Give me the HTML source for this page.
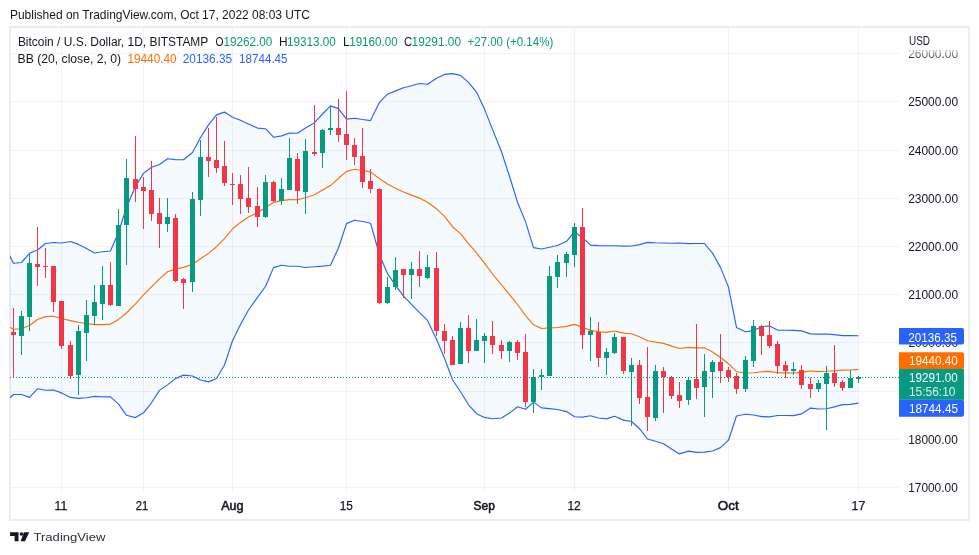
<!DOCTYPE html>
<html><head><meta charset="utf-8">
<style>
html,body{margin:0;padding:0;background:#fff;}
body{width:979px;height:555px;position:relative;overflow:hidden;}
svg{position:absolute;left:0;top:0;will-change:transform;}
text{font-family:"Liberation Sans",sans-serif;}
</style></head><body>
<svg width="979" height="555" viewBox="0 0 979 555">
<defs><clipPath id="chartclip"><rect x="10" y="28" width="889" height="463"/></clipPath><clipPath id="clip26"><rect x="900" y="50.3" width="68" height="12"/></clipPath><linearGradient id="fade26" x1="0" y1="0" x2="0" y2="1"><stop offset="0" stop-color="#fff" stop-opacity="0.75"/><stop offset="1" stop-color="#fff" stop-opacity="0.1"/></linearGradient></defs>
<rect x="0" y="0" width="979" height="555" fill="#FFFFFF"/>
<rect x="10" y="27" width="959" height="493" fill="none" stroke="#ECEDF2" stroke-width="2"/>
<line x1="11" y1="53.5" x2="899" y2="53.5" stroke="#2A2E39" stroke-opacity="0.06" stroke-width="1"/>
<line x1="11" y1="101.5" x2="899" y2="101.5" stroke="#2A2E39" stroke-opacity="0.06" stroke-width="1"/>
<line x1="11" y1="150.5" x2="899" y2="150.5" stroke="#2A2E39" stroke-opacity="0.06" stroke-width="1"/>
<line x1="11" y1="198.5" x2="899" y2="198.5" stroke="#2A2E39" stroke-opacity="0.06" stroke-width="1"/>
<line x1="11" y1="246.5" x2="899" y2="246.5" stroke="#2A2E39" stroke-opacity="0.06" stroke-width="1"/>
<line x1="11" y1="294.5" x2="899" y2="294.5" stroke="#2A2E39" stroke-opacity="0.06" stroke-width="1"/>
<line x1="11" y1="342.5" x2="899" y2="342.5" stroke="#2A2E39" stroke-opacity="0.06" stroke-width="1"/>
<line x1="11" y1="391.5" x2="899" y2="391.5" stroke="#2A2E39" stroke-opacity="0.06" stroke-width="1"/>
<line x1="11" y1="439.5" x2="899" y2="439.5" stroke="#2A2E39" stroke-opacity="0.06" stroke-width="1"/>
<line x1="11" y1="487.5" x2="899" y2="487.5" stroke="#2A2E39" stroke-opacity="0.06" stroke-width="1"/>
<line x1="61.5" y1="28" x2="61.5" y2="492" stroke="#2A2E39" stroke-opacity="0.06" stroke-width="1"/>
<line x1="143.5" y1="28" x2="143.5" y2="492" stroke="#2A2E39" stroke-opacity="0.06" stroke-width="1"/>
<line x1="232.5" y1="28" x2="232.5" y2="492" stroke="#2A2E39" stroke-opacity="0.06" stroke-width="1"/>
<line x1="346.5" y1="28" x2="346.5" y2="492" stroke="#2A2E39" stroke-opacity="0.06" stroke-width="1"/>
<line x1="484.5" y1="28" x2="484.5" y2="492" stroke="#2A2E39" stroke-opacity="0.06" stroke-width="1"/>
<line x1="574.5" y1="28" x2="574.5" y2="492" stroke="#2A2E39" stroke-opacity="0.06" stroke-width="1"/>
<line x1="728.5" y1="28" x2="728.5" y2="492" stroke="#2A2E39" stroke-opacity="0.06" stroke-width="1"/>
<line x1="858.5" y1="28" x2="858.5" y2="492" stroke="#2A2E39" stroke-opacity="0.06" stroke-width="1"/>
<g clip-path="url(#chartclip)">
<polygon points="4.5,245.5 13.5,263.3 21.5,262.5 29.5,253.3 37.5,250.0 45.5,243.5 53.5,242.5 61.5,243.0 70.5,241.5 78.5,244.4 86.5,248.5 94.5,253.0 102.5,251.8 110.5,251.0 118.5,232.2 126.5,207.2 135.5,186.3 143.5,173.4 151.5,167.3 159.5,164.5 167.5,158.7 175.5,159.6 183.5,159.8 192.5,152.5 200.5,137.5 208.5,124.9 216.5,114.9 224.5,112.1 232.5,117.3 240.5,120.3 248.5,123.9 257.5,128.1 265.5,128.7 273.5,137.2 281.5,135.9 289.5,133.0 297.5,133.2 305.5,127.9 314.5,122.7 322.5,114.0 330.5,105.9 338.5,108.6 346.5,119.1 354.5,118.2 362.5,119.5 370.5,120.6 379.5,102.3 387.5,94.2 395.5,90.9 403.5,87.8 411.5,85.8 419.5,83.5 427.5,84.3 436.5,78.3 444.5,74.4 452.5,73.6 460.5,75.4 468.5,82.4 476.5,92.1 484.5,109.1 492.5,129.4 501.5,151.7 509.5,176.3 517.5,202.2 525.5,221.6 533.5,247.6 541.5,249.0 549.5,247.2 557.5,245.5 566.5,241.3 574.5,231.9 582.5,237.5 590.5,245.1 598.5,245.6 606.5,245.8 614.5,245.7 623.5,246.1 631.5,246.0 639.5,244.6 647.5,242.4 655.5,242.8 663.5,243.0 671.5,243.2 679.5,243.0 688.5,243.6 696.5,243.5 704.5,243.5 712.5,253.1 720.5,267.4 728.5,287.1 736.5,327.4 745.5,331.8 753.5,330.6 761.5,326.8 769.5,325.9 777.5,330.1 785.5,330.2 793.5,330.4 801.5,330.9 810.5,333.9 818.5,334.1 826.5,334.0 834.5,334.6 842.5,335.6 850.5,335.6 858.5,335.8 858.5,403.1 850.5,404.4 842.5,404.6 834.5,406.9 826.5,408.7 818.5,409.0 810.5,408.1 801.5,413.9 793.5,415.6 785.5,415.5 777.5,415.5 769.5,416.9 761.5,416.6 753.5,415.0 745.5,414.2 736.5,416.0 728.5,440.2 720.5,447.6 712.5,451.0 704.5,452.1 696.5,452.4 688.5,451.1 679.5,453.9 671.5,448.9 663.5,443.7 655.5,441.2 647.5,439.0 639.5,428.7 631.5,421.5 623.5,420.1 614.5,416.3 606.5,418.9 598.5,418.0 590.5,415.8 582.5,417.1 574.5,416.8 566.5,411.6 557.5,409.5 549.5,408.6 541.5,407.9 533.5,402.1 525.5,409.3 517.5,406.8 509.5,413.1 501.5,418.0 492.5,418.7 484.5,417.4 476.5,413.7 468.5,404.8 460.5,391.8 452.5,379.8 444.5,358.4 436.5,339.3 427.5,320.4 419.5,312.6 411.5,304.4 403.5,296.2 395.5,285.4 387.5,273.6 379.5,255.0 370.5,223.2 362.5,221.5 354.5,220.3 346.5,223.6 338.5,248.0 330.5,265.2 322.5,266.1 314.5,266.7 305.5,267.5 297.5,266.2 289.5,266.2 281.5,265.2 273.5,267.6 265.5,286.5 257.5,297.3 248.5,310.0 240.5,324.5 232.5,340.7 224.5,365.0 216.5,378.5 208.5,381.9 200.5,380.0 192.5,376.0 183.5,375.1 175.5,378.6 167.5,384.9 159.5,390.4 151.5,402.8 143.5,412.8 135.5,417.6 126.5,415.3 118.5,404.1 110.5,396.8 102.5,396.8 94.5,396.4 86.5,397.8 78.5,398.4 70.5,397.4 61.5,392.9 53.5,390.0 45.5,390.3 37.5,388.8 29.5,397.4 21.5,394.5 13.5,394.5 4.5,403.0" fill="#2196F3" fill-opacity="0.05"/>
<polyline points="4.5,324.4 13.5,329.2 21.5,328.8 29.5,325.5 37.5,319.5 45.5,316.6 53.5,316.3 61.5,318.5 70.5,320.6 78.5,322.3 86.5,323.5 94.5,324.6 102.5,324.6 110.5,324.1 118.5,319.4 126.5,313.0 135.5,303.9 143.5,294.9 151.5,286.9 159.5,278.9 167.5,271.8 175.5,269.1 183.5,267.4 192.5,264.2 200.5,258.7 208.5,253.4 216.5,246.7 224.5,238.6 232.5,229.0 240.5,222.4 248.5,217.0 257.5,212.7 265.5,207.6 273.5,202.4 281.5,200.6 289.5,199.6 297.5,199.7 305.5,197.7 314.5,194.7 322.5,190.0 330.5,185.6 338.5,178.3 346.5,171.4 354.5,169.3 362.5,170.5 370.5,171.9 379.5,178.7 387.5,183.9 395.5,188.2 403.5,192.0 411.5,195.1 419.5,198.1 427.5,202.3 436.5,208.8 444.5,216.4 452.5,226.7 460.5,233.6 468.5,243.6 476.5,252.9 484.5,263.2 492.5,274.0 501.5,284.8 509.5,294.7 517.5,304.5 525.5,315.5 533.5,324.8 541.5,328.5 549.5,327.9 557.5,327.5 566.5,326.4 574.5,324.4 582.5,327.3 590.5,330.4 598.5,331.8 606.5,332.4 614.5,331.0 623.5,333.1 631.5,333.8 639.5,336.7 647.5,340.7 655.5,342.0 663.5,343.4 671.5,346.1 679.5,348.5 688.5,347.4 696.5,347.9 704.5,347.8 712.5,352.1 720.5,357.5 728.5,363.7 736.5,371.7 745.5,373.0 753.5,372.8 761.5,371.7 769.5,371.4 777.5,372.8 785.5,372.9 793.5,373.0 801.5,372.4 810.5,371.0 818.5,371.6 826.5,371.3 834.5,370.7 842.5,370.1 850.5,370.0 858.5,369.4" fill="none" stroke="#FF6D00" stroke-width="1.15" stroke-linejoin="round"/>
<polyline points="4.5,245.5 13.5,263.3 21.5,262.5 29.5,253.3 37.5,250.0 45.5,243.5 53.5,242.5 61.5,243.0 70.5,241.5 78.5,244.4 86.5,248.5 94.5,253.0 102.5,251.8 110.5,251.0 118.5,232.2 126.5,207.2 135.5,186.3 143.5,173.4 151.5,167.3 159.5,164.5 167.5,158.7 175.5,159.6 183.5,159.8 192.5,152.5 200.5,137.5 208.5,124.9 216.5,114.9 224.5,112.1 232.5,117.3 240.5,120.3 248.5,123.9 257.5,128.1 265.5,128.7 273.5,137.2 281.5,135.9 289.5,133.0 297.5,133.2 305.5,127.9 314.5,122.7 322.5,114.0 330.5,105.9 338.5,108.6 346.5,119.1 354.5,118.2 362.5,119.5 370.5,120.6 379.5,102.3 387.5,94.2 395.5,90.9 403.5,87.8 411.5,85.8 419.5,83.5 427.5,84.3 436.5,78.3 444.5,74.4 452.5,73.6 460.5,75.4 468.5,82.4 476.5,92.1 484.5,109.1 492.5,129.4 501.5,151.7 509.5,176.3 517.5,202.2 525.5,221.6 533.5,247.6 541.5,249.0 549.5,247.2 557.5,245.5 566.5,241.3 574.5,231.9 582.5,237.5 590.5,245.1 598.5,245.6 606.5,245.8 614.5,245.7 623.5,246.1 631.5,246.0 639.5,244.6 647.5,242.4 655.5,242.8 663.5,243.0 671.5,243.2 679.5,243.0 688.5,243.6 696.5,243.5 704.5,243.5 712.5,253.1 720.5,267.4 728.5,287.1 736.5,327.4 745.5,331.8 753.5,330.6 761.5,326.8 769.5,325.9 777.5,330.1 785.5,330.2 793.5,330.4 801.5,330.9 810.5,333.9 818.5,334.1 826.5,334.0 834.5,334.6 842.5,335.6 850.5,335.6 858.5,335.8" fill="none" stroke="#2962FF" stroke-width="1.15" stroke-linejoin="round"/>
<polyline points="4.5,403.0 13.5,394.5 21.5,394.5 29.5,397.4 37.5,388.8 45.5,390.3 53.5,390.0 61.5,392.9 70.5,397.4 78.5,398.4 86.5,397.8 94.5,396.4 102.5,396.8 110.5,396.8 118.5,404.1 126.5,415.3 135.5,417.6 143.5,412.8 151.5,402.8 159.5,390.4 167.5,384.9 175.5,378.6 183.5,375.1 192.5,376.0 200.5,380.0 208.5,381.9 216.5,378.5 224.5,365.0 232.5,340.7 240.5,324.5 248.5,310.0 257.5,297.3 265.5,286.5 273.5,267.6 281.5,265.2 289.5,266.2 297.5,266.2 305.5,267.5 314.5,266.7 322.5,266.1 330.5,265.2 338.5,248.0 346.5,223.6 354.5,220.3 362.5,221.5 370.5,223.2 379.5,255.0 387.5,273.6 395.5,285.4 403.5,296.2 411.5,304.4 419.5,312.6 427.5,320.4 436.5,339.3 444.5,358.4 452.5,379.8 460.5,391.8 468.5,404.8 476.5,413.7 484.5,417.4 492.5,418.7 501.5,418.0 509.5,413.1 517.5,406.8 525.5,409.3 533.5,402.1 541.5,407.9 549.5,408.6 557.5,409.5 566.5,411.6 574.5,416.8 582.5,417.1 590.5,415.8 598.5,418.0 606.5,418.9 614.5,416.3 623.5,420.1 631.5,421.5 639.5,428.7 647.5,439.0 655.5,441.2 663.5,443.7 671.5,448.9 679.5,453.9 688.5,451.1 696.5,452.4 704.5,452.1 712.5,451.0 720.5,447.6 728.5,440.2 736.5,416.0 745.5,414.2 753.5,415.0 761.5,416.6 769.5,416.9 777.5,415.5 785.5,415.5 793.5,415.6 801.5,413.9 810.5,408.1 818.5,409.0 826.5,408.7 834.5,406.9 842.5,404.6 850.5,404.4 858.5,403.1" fill="none" stroke="#2962FF" stroke-width="1.15" stroke-linejoin="round"/>
<line x1="13.5" y1="308" x2="13.5" y2="378" stroke="#F23645" stroke-width="1"/>
<rect x="11" y="332" width="5" height="3" fill="#F23645"/>
<line x1="21.5" y1="311" x2="21.5" y2="355" stroke="#089981" stroke-width="1"/>
<rect x="19" y="316" width="5" height="20" fill="#089981"/>
<line x1="29.5" y1="254" x2="29.5" y2="331" stroke="#089981" stroke-width="1"/>
<rect x="27" y="263" width="5" height="54" fill="#089981"/>
<line x1="37.5" y1="227" x2="37.5" y2="286" stroke="#F23645" stroke-width="1"/>
<rect x="35" y="264" width="5" height="3" fill="#F23645"/>
<line x1="45.5" y1="248" x2="45.5" y2="278" stroke="#F23645" stroke-width="1"/>
<rect x="43" y="266" width="5" height="1" fill="#F23645"/>
<line x1="53.5" y1="266" x2="53.5" y2="312" stroke="#F23645" stroke-width="1"/>
<rect x="51" y="266" width="5" height="36" fill="#F23645"/>
<line x1="61.5" y1="301" x2="61.5" y2="349" stroke="#F23645" stroke-width="1"/>
<rect x="59" y="301" width="5" height="45" fill="#F23645"/>
<line x1="70.5" y1="341" x2="70.5" y2="379" stroke="#F23645" stroke-width="1"/>
<rect x="68" y="345" width="5" height="31" fill="#F23645"/>
<line x1="78.5" y1="325" x2="78.5" y2="395" stroke="#089981" stroke-width="1"/>
<rect x="76" y="331" width="5" height="44" fill="#089981"/>
<line x1="86.5" y1="300" x2="86.5" y2="361" stroke="#089981" stroke-width="1"/>
<rect x="84" y="315" width="5" height="18" fill="#089981"/>
<line x1="94.5" y1="285" x2="94.5" y2="325" stroke="#089981" stroke-width="1"/>
<rect x="92" y="302" width="5" height="14" fill="#089981"/>
<line x1="102.5" y1="266" x2="102.5" y2="320" stroke="#089981" stroke-width="1"/>
<rect x="100" y="285" width="5" height="19" fill="#089981"/>
<line x1="110.5" y1="262" x2="110.5" y2="306" stroke="#F23645" stroke-width="1"/>
<rect x="108" y="285" width="5" height="20" fill="#F23645"/>
<line x1="118.5" y1="209" x2="118.5" y2="306" stroke="#089981" stroke-width="1"/>
<rect x="116" y="225" width="5" height="81" fill="#089981"/>
<line x1="126.5" y1="159" x2="126.5" y2="265" stroke="#089981" stroke-width="1"/>
<rect x="124" y="178" width="5" height="47" fill="#089981"/>
<line x1="135.5" y1="136" x2="135.5" y2="202" stroke="#F23645" stroke-width="1"/>
<rect x="133" y="179" width="5" height="10" fill="#F23645"/>
<line x1="143.5" y1="177" x2="143.5" y2="229" stroke="#F23645" stroke-width="1"/>
<rect x="141" y="187" width="5" height="4" fill="#F23645"/>
<line x1="151.5" y1="161" x2="151.5" y2="221" stroke="#F23645" stroke-width="1"/>
<rect x="149" y="190" width="5" height="24" fill="#F23645"/>
<line x1="159.5" y1="198" x2="159.5" y2="248" stroke="#F23645" stroke-width="1"/>
<rect x="157" y="213" width="5" height="11" fill="#F23645"/>
<line x1="167.5" y1="198" x2="167.5" y2="232" stroke="#089981" stroke-width="1"/>
<rect x="165" y="217" width="5" height="7" fill="#089981"/>
<line x1="175.5" y1="214" x2="175.5" y2="282" stroke="#F23645" stroke-width="1"/>
<rect x="173" y="218" width="5" height="63" fill="#F23645"/>
<line x1="183.5" y1="278" x2="183.5" y2="309" stroke="#F23645" stroke-width="1"/>
<rect x="181" y="279" width="5" height="4" fill="#F23645"/>
<line x1="192.5" y1="192" x2="192.5" y2="292" stroke="#089981" stroke-width="1"/>
<rect x="190" y="199" width="5" height="83" fill="#089981"/>
<line x1="200.5" y1="140" x2="200.5" y2="216" stroke="#089981" stroke-width="1"/>
<rect x="198" y="157" width="5" height="43" fill="#089981"/>
<line x1="208.5" y1="128" x2="208.5" y2="177" stroke="#F23645" stroke-width="1"/>
<rect x="206" y="157" width="5" height="4" fill="#F23645"/>
<line x1="216.5" y1="117" x2="216.5" y2="173" stroke="#F23645" stroke-width="1"/>
<rect x="214" y="160" width="5" height="8" fill="#F23645"/>
<line x1="224.5" y1="141" x2="224.5" y2="186" stroke="#F23645" stroke-width="1"/>
<rect x="222" y="166" width="5" height="17" fill="#F23645"/>
<line x1="232.5" y1="173" x2="232.5" y2="205" stroke="#F23645" stroke-width="1"/>
<rect x="230" y="184" width="5" height="1" fill="#F23645"/>
<line x1="240.5" y1="175" x2="240.5" y2="214" stroke="#F23645" stroke-width="1"/>
<rect x="238" y="184" width="5" height="15" fill="#F23645"/>
<line x1="248.5" y1="167" x2="248.5" y2="213" stroke="#F23645" stroke-width="1"/>
<rect x="246" y="198" width="5" height="9" fill="#F23645"/>
<line x1="257.5" y1="187" x2="257.5" y2="227" stroke="#F23645" stroke-width="1"/>
<rect x="255" y="206" width="5" height="11" fill="#F23645"/>
<line x1="265.5" y1="175" x2="265.5" y2="218" stroke="#089981" stroke-width="1"/>
<rect x="263" y="182" width="5" height="35" fill="#089981"/>
<line x1="273.5" y1="181" x2="273.5" y2="202" stroke="#F23645" stroke-width="1"/>
<rect x="271" y="182" width="5" height="19" fill="#F23645"/>
<line x1="281.5" y1="178" x2="281.5" y2="205" stroke="#089981" stroke-width="1"/>
<rect x="279" y="189" width="5" height="12" fill="#089981"/>
<line x1="289.5" y1="138" x2="289.5" y2="190" stroke="#089981" stroke-width="1"/>
<rect x="287" y="158" width="5" height="32" fill="#089981"/>
<line x1="297.5" y1="153" x2="297.5" y2="204" stroke="#F23645" stroke-width="1"/>
<rect x="295" y="159" width="5" height="32" fill="#F23645"/>
<line x1="305.5" y1="139" x2="305.5" y2="214" stroke="#089981" stroke-width="1"/>
<rect x="303" y="151" width="5" height="41" fill="#089981"/>
<line x1="314.5" y1="105" x2="314.5" y2="156" stroke="#F23645" stroke-width="1"/>
<rect x="312" y="152" width="5" height="2" fill="#F23645"/>
<line x1="322.5" y1="129" x2="322.5" y2="168" stroke="#089981" stroke-width="1"/>
<rect x="320" y="130" width="5" height="23" fill="#089981"/>
<line x1="330.5" y1="106" x2="330.5" y2="135" stroke="#089981" stroke-width="1"/>
<rect x="328" y="128" width="5" height="2" fill="#089981"/>
<line x1="338.5" y1="99" x2="338.5" y2="142" stroke="#F23645" stroke-width="1"/>
<rect x="336" y="128" width="5" height="7" fill="#F23645"/>
<line x1="346.5" y1="91" x2="346.5" y2="160" stroke="#F23645" stroke-width="1"/>
<rect x="344" y="134" width="5" height="11" fill="#F23645"/>
<line x1="354.5" y1="138" x2="354.5" y2="165" stroke="#F23645" stroke-width="1"/>
<rect x="352" y="145" width="5" height="12" fill="#F23645"/>
<line x1="362.5" y1="128" x2="362.5" y2="188" stroke="#F23645" stroke-width="1"/>
<rect x="360" y="156" width="5" height="26" fill="#F23645"/>
<line x1="370.5" y1="169" x2="370.5" y2="193" stroke="#F23645" stroke-width="1"/>
<rect x="368" y="181" width="5" height="8" fill="#F23645"/>
<line x1="379.5" y1="188" x2="379.5" y2="304" stroke="#F23645" stroke-width="1"/>
<rect x="377" y="189" width="5" height="114" fill="#F23645"/>
<line x1="387.5" y1="277" x2="387.5" y2="304" stroke="#089981" stroke-width="1"/>
<rect x="385" y="287" width="5" height="16" fill="#089981"/>
<line x1="395.5" y1="257" x2="395.5" y2="290" stroke="#089981" stroke-width="1"/>
<rect x="393" y="270" width="5" height="17" fill="#089981"/>
<line x1="403.5" y1="269" x2="403.5" y2="298" stroke="#F23645" stroke-width="1"/>
<rect x="401" y="269" width="5" height="6" fill="#F23645"/>
<line x1="411.5" y1="262" x2="411.5" y2="299" stroke="#089981" stroke-width="1"/>
<rect x="409" y="269" width="5" height="6" fill="#089981"/>
<line x1="419.5" y1="251" x2="419.5" y2="287" stroke="#F23645" stroke-width="1"/>
<rect x="417" y="269" width="5" height="7" fill="#F23645"/>
<line x1="427.5" y1="255" x2="427.5" y2="279" stroke="#089981" stroke-width="1"/>
<rect x="425" y="267" width="5" height="11" fill="#089981"/>
<line x1="436.5" y1="252" x2="436.5" y2="336" stroke="#F23645" stroke-width="1"/>
<rect x="434" y="268" width="5" height="63" fill="#F23645"/>
<line x1="549.5" y1="266" x2="549.5" y2="376" stroke="#089981" stroke-width="1"/>
<rect x="547" y="276" width="5" height="100" fill="#089981"/>
<line x1="557.5" y1="255" x2="557.5" y2="288" stroke="#089981" stroke-width="1"/>
<rect x="555" y="262" width="5" height="15" fill="#089981"/>
<line x1="566.5" y1="252" x2="566.5" y2="277" stroke="#089981" stroke-width="1"/>
<rect x="564" y="254" width="5" height="9" fill="#089981"/>
<line x1="574.5" y1="223" x2="574.5" y2="267" stroke="#089981" stroke-width="1"/>
<rect x="572" y="227" width="5" height="28" fill="#089981"/>
<line x1="582.5" y1="208" x2="582.5" y2="349" stroke="#F23645" stroke-width="1"/>
<rect x="580" y="227" width="5" height="108" fill="#F23645"/>
<line x1="444.5" y1="324" x2="444.5" y2="354" stroke="#F23645" stroke-width="1"/>
<rect x="442" y="331" width="5" height="10" fill="#F23645"/>
<line x1="452.5" y1="336" x2="452.5" y2="365" stroke="#F23645" stroke-width="1"/>
<rect x="450" y="340" width="5" height="25" fill="#F23645"/>
<line x1="460.5" y1="322" x2="460.5" y2="364" stroke="#089981" stroke-width="1"/>
<rect x="458" y="328" width="5" height="36" fill="#089981"/>
<line x1="468.5" y1="315" x2="468.5" y2="363" stroke="#F23645" stroke-width="1"/>
<rect x="466" y="328" width="5" height="23" fill="#F23645"/>
<line x1="476.5" y1="319" x2="476.5" y2="351" stroke="#089981" stroke-width="1"/>
<rect x="474" y="340" width="5" height="11" fill="#089981"/>
<line x1="484.5" y1="333" x2="484.5" y2="363" stroke="#089981" stroke-width="1"/>
<rect x="482" y="336" width="5" height="5" fill="#089981"/>
<line x1="492.5" y1="321" x2="492.5" y2="354" stroke="#F23645" stroke-width="1"/>
<rect x="490" y="336" width="5" height="9" fill="#F23645"/>
<line x1="501.5" y1="340" x2="501.5" y2="359" stroke="#F23645" stroke-width="1"/>
<rect x="499" y="345" width="5" height="6" fill="#F23645"/>
<line x1="509.5" y1="341" x2="509.5" y2="362" stroke="#089981" stroke-width="1"/>
<rect x="507" y="342" width="5" height="9" fill="#089981"/>
<line x1="517.5" y1="340" x2="517.5" y2="360" stroke="#F23645" stroke-width="1"/>
<rect x="515" y="342" width="5" height="11" fill="#F23645"/>
<line x1="525.5" y1="334" x2="525.5" y2="407" stroke="#F23645" stroke-width="1"/>
<rect x="523" y="352" width="5" height="50" fill="#F23645"/>
<line x1="533.5" y1="369" x2="533.5" y2="413" stroke="#089981" stroke-width="1"/>
<rect x="531" y="377" width="5" height="25" fill="#089981"/>
<line x1="541.5" y1="369" x2="541.5" y2="390" stroke="#089981" stroke-width="1"/>
<rect x="539" y="375" width="5" height="2" fill="#089981"/>
<line x1="590.5" y1="317" x2="590.5" y2="361" stroke="#089981" stroke-width="1"/>
<rect x="588" y="331" width="5" height="4" fill="#089981"/>
<line x1="598.5" y1="322" x2="598.5" y2="367" stroke="#F23645" stroke-width="1"/>
<rect x="596" y="332" width="5" height="26" fill="#F23645"/>
<line x1="606.5" y1="348" x2="606.5" y2="375" stroke="#089981" stroke-width="1"/>
<rect x="604" y="352" width="5" height="6" fill="#089981"/>
<line x1="614.5" y1="333" x2="614.5" y2="354" stroke="#089981" stroke-width="1"/>
<rect x="612" y="337" width="5" height="16" fill="#089981"/>
<line x1="623.5" y1="337" x2="623.5" y2="374" stroke="#F23645" stroke-width="1"/>
<rect x="621" y="337" width="5" height="34" fill="#F23645"/>
<line x1="631.5" y1="358" x2="631.5" y2="426" stroke="#089981" stroke-width="1"/>
<rect x="629" y="365" width="5" height="7" fill="#089981"/>
<line x1="639.5" y1="360" x2="639.5" y2="404" stroke="#F23645" stroke-width="1"/>
<rect x="637" y="365" width="5" height="33" fill="#F23645"/>
<line x1="647.5" y1="347" x2="647.5" y2="431" stroke="#F23645" stroke-width="1"/>
<rect x="645" y="397" width="5" height="20" fill="#F23645"/>
<line x1="655.5" y1="365" x2="655.5" y2="421" stroke="#089981" stroke-width="1"/>
<rect x="653" y="371" width="5" height="47" fill="#089981"/>
<line x1="663.5" y1="367" x2="663.5" y2="413" stroke="#F23645" stroke-width="1"/>
<rect x="661" y="371" width="5" height="6" fill="#F23645"/>
<line x1="671.5" y1="376" x2="671.5" y2="399" stroke="#F23645" stroke-width="1"/>
<rect x="669" y="377" width="5" height="19" fill="#F23645"/>
<line x1="679.5" y1="382" x2="679.5" y2="408" stroke="#F23645" stroke-width="1"/>
<rect x="677" y="395" width="5" height="6" fill="#F23645"/>
<line x1="688.5" y1="377" x2="688.5" y2="405" stroke="#089981" stroke-width="1"/>
<rect x="686" y="380" width="5" height="20" fill="#089981"/>
<line x1="696.5" y1="324" x2="696.5" y2="399" stroke="#F23645" stroke-width="1"/>
<rect x="694" y="379" width="5" height="9" fill="#F23645"/>
<line x1="704.5" y1="354" x2="704.5" y2="417" stroke="#089981" stroke-width="1"/>
<rect x="702" y="371" width="5" height="16" fill="#089981"/>
<line x1="712.5" y1="360" x2="712.5" y2="398" stroke="#089981" stroke-width="1"/>
<rect x="710" y="362" width="5" height="10" fill="#089981"/>
<line x1="720.5" y1="334" x2="720.5" y2="383" stroke="#F23645" stroke-width="1"/>
<rect x="718" y="362" width="5" height="9" fill="#F23645"/>
<line x1="728.5" y1="367" x2="728.5" y2="382" stroke="#F23645" stroke-width="1"/>
<rect x="726" y="370" width="5" height="7" fill="#F23645"/>
<line x1="736.5" y1="373" x2="736.5" y2="394" stroke="#F23645" stroke-width="1"/>
<rect x="734" y="376" width="5" height="13" fill="#F23645"/>
<line x1="745.5" y1="356" x2="745.5" y2="392" stroke="#089981" stroke-width="1"/>
<rect x="743" y="360" width="5" height="29" fill="#089981"/>
<line x1="753.5" y1="320" x2="753.5" y2="367" stroke="#089981" stroke-width="1"/>
<rect x="751" y="326" width="5" height="35" fill="#089981"/>
<line x1="761.5" y1="325" x2="761.5" y2="355" stroke="#F23645" stroke-width="1"/>
<rect x="759" y="326" width="5" height="10" fill="#F23645"/>
<line x1="769.5" y1="321" x2="769.5" y2="348" stroke="#F23645" stroke-width="1"/>
<rect x="767" y="335" width="5" height="11" fill="#F23645"/>
<line x1="777.5" y1="341" x2="777.5" y2="374" stroke="#F23645" stroke-width="1"/>
<rect x="775" y="344" width="5" height="22" fill="#F23645"/>
<line x1="785.5" y1="361" x2="785.5" y2="378" stroke="#F23645" stroke-width="1"/>
<rect x="783" y="365" width="5" height="6" fill="#F23645"/>
<line x1="793.5" y1="362" x2="793.5" y2="375" stroke="#089981" stroke-width="1"/>
<rect x="791" y="369" width="5" height="2" fill="#089981"/>
<line x1="801.5" y1="365" x2="801.5" y2="389" stroke="#F23645" stroke-width="1"/>
<rect x="799" y="370" width="5" height="15" fill="#F23645"/>
<line x1="810.5" y1="378" x2="810.5" y2="398" stroke="#F23645" stroke-width="1"/>
<rect x="808" y="384" width="5" height="5" fill="#F23645"/>
<line x1="818.5" y1="380" x2="818.5" y2="392" stroke="#089981" stroke-width="1"/>
<rect x="816" y="383" width="5" height="6" fill="#089981"/>
<line x1="826.5" y1="366" x2="826.5" y2="430" stroke="#089981" stroke-width="1"/>
<rect x="824" y="373" width="5" height="11" fill="#089981"/>
<line x1="834.5" y1="345" x2="834.5" y2="387" stroke="#F23645" stroke-width="1"/>
<rect x="832" y="373" width="5" height="10" fill="#F23645"/>
<line x1="842.5" y1="380" x2="842.5" y2="391" stroke="#F23645" stroke-width="1"/>
<rect x="840" y="382" width="5" height="6" fill="#F23645"/>
<line x1="850.5" y1="370" x2="850.5" y2="388" stroke="#089981" stroke-width="1"/>
<rect x="848" y="378" width="5" height="10" fill="#089981"/>
<line x1="858.5" y1="376" x2="858.5" y2="383" stroke="#089981" stroke-width="1"/>
<rect x="856" y="377" width="5" height="2" fill="#089981"/>
<line x1="10" y1="377.5" x2="899" y2="377.5" stroke="#089981" stroke-width="1" stroke-dasharray="1,2"/>
</g>
<text x="9.98" y="19.0" font-size="12.6" fill="#131722" font-weight="normal" textLength="299.95" lengthAdjust="spacingAndGlyphs" >Published on TradingView.com, Oct 17, 2022 08:03 UTC</text>
<text x="17.88" y="45.9" font-size="12" fill="#131722" font-weight="normal" textLength="190.43" lengthAdjust="spacingAndGlyphs" >Bitcoin / U.S. Dollar, 1D, BITSTAMP</text>
<text x="215.45" y="45.9" font-size="12" fill="#131722" font-weight="normal" textLength="8.00" lengthAdjust="spacingAndGlyphs" >O</text>
<text x="223.45" y="45.9" font-size="12" fill="#089981" font-weight="normal" textLength="48.94" lengthAdjust="spacingAndGlyphs" >19262.00</text>
<text x="279.00" y="45.9" font-size="12" fill="#131722" font-weight="normal" textLength="8.60" lengthAdjust="spacingAndGlyphs" >H</text>
<text x="286.88" y="45.9" font-size="12" fill="#089981" font-weight="normal" textLength="48.93" lengthAdjust="spacingAndGlyphs" >19313.00</text>
<text x="343.10" y="45.9" font-size="12" fill="#131722" font-weight="normal"  >L</text>
<text x="349.15" y="45.9" font-size="12" fill="#089981" font-weight="normal" textLength="48.66" lengthAdjust="spacingAndGlyphs" >19160.00</text>
<text x="404.00" y="45.9" font-size="12" fill="#131722" font-weight="normal" textLength="8.20" lengthAdjust="spacingAndGlyphs" >C</text>
<text x="411.60" y="45.9" font-size="12" fill="#089981" font-weight="normal" textLength="49.38" lengthAdjust="spacingAndGlyphs" >19291.00</text>
<text x="467.53" y="45.9" font-size="12" fill="#089981" font-weight="normal" textLength="85.70" lengthAdjust="spacingAndGlyphs" >+27.00 (+0.14%)</text>
<text x="17.52" y="62.8" font-size="12" fill="#131722" font-weight="normal" textLength="103.63" lengthAdjust="spacingAndGlyphs" >BB (20, close, 2, 0)</text>
<text x="127.38" y="62.8" font-size="12" fill="#FF6D00" font-weight="normal" textLength="49.28" lengthAdjust="spacingAndGlyphs" >19440.40</text>
<text x="182.72" y="62.8" font-size="12" fill="#2962FF" font-weight="normal" textLength="49.37" lengthAdjust="spacingAndGlyphs" >20136.35</text>
<text x="239.08" y="62.8" font-size="12" fill="#2962FF" font-weight="normal" textLength="48.47" lengthAdjust="spacingAndGlyphs" >18744.45</text>
<text x="909.06" y="44.7" font-size="12.4" fill="#131722" font-weight="normal" textLength="20.87" lengthAdjust="spacingAndGlyphs" >USD</text>
<text x="908.18" y="105.9" font-size="12.4" fill="#131722" font-weight="normal" textLength="49.86" lengthAdjust="spacingAndGlyphs" >25000.00</text>
<text x="908.18" y="154.9" font-size="12.4" fill="#131722" font-weight="normal" textLength="49.86" lengthAdjust="spacingAndGlyphs" >24000.00</text>
<text x="908.18" y="202.9" font-size="12.4" fill="#131722" font-weight="normal" textLength="49.86" lengthAdjust="spacingAndGlyphs" >23000.00</text>
<text x="908.18" y="250.9" font-size="12.4" fill="#131722" font-weight="normal" textLength="49.86" lengthAdjust="spacingAndGlyphs" >22000.00</text>
<text x="908.18" y="298.9" font-size="12.4" fill="#131722" font-weight="normal" textLength="49.86" lengthAdjust="spacingAndGlyphs" >21000.00</text>
<text x="908.41" y="346.9" font-size="12.4" fill="#131722" font-weight="normal" textLength="49.68" lengthAdjust="spacingAndGlyphs" >20000.00</text>
<text x="908.21" y="443.9" font-size="12.4" fill="#131722" font-weight="normal" textLength="49.54" lengthAdjust="spacingAndGlyphs" >18000.00</text>
<text x="908.21" y="491.9" font-size="12.4" fill="#131722" font-weight="normal" textLength="49.54" lengthAdjust="spacingAndGlyphs" >17000.00</text>
<text x="54.54" y="509.9" font-size="12.4" fill="#131722" font-weight="normal" textLength="12.67" lengthAdjust="spacingAndGlyphs" stroke="#131722" stroke-width="0.25">11</text>
<text x="135.85" y="509.9" font-size="12.4" fill="#131722" font-weight="normal" textLength="12.43" lengthAdjust="spacingAndGlyphs" stroke="#131722" stroke-width="0.25">21</text>
<text x="221.21" y="509.9" font-size="12.4" fill="#131722" font-weight="normal" textLength="22.28" lengthAdjust="spacingAndGlyphs" stroke="#131722" stroke-width="0.55">Aug</text>
<text x="339.76" y="509.9" font-size="12.4" fill="#131722" font-weight="normal" textLength="13.10" lengthAdjust="spacingAndGlyphs" stroke="#131722" stroke-width="0.25">15</text>
<text x="473.61" y="509.9" font-size="12.4" fill="#131722" font-weight="normal" textLength="21.27" lengthAdjust="spacingAndGlyphs" stroke="#131722" stroke-width="0.55">Sep</text>
<text x="567.39" y="509.9" font-size="12.4" fill="#131722" font-weight="normal" textLength="13.38" lengthAdjust="spacingAndGlyphs" stroke="#131722" stroke-width="0.25">12</text>
<text x="717.82" y="509.9" font-size="12.4" fill="#131722" font-weight="normal" textLength="20.80" lengthAdjust="spacingAndGlyphs" stroke="#131722" stroke-width="0.55">Oct</text>
<text x="851.59" y="509.9" font-size="12.4" fill="#131722" font-weight="normal" textLength="13.80" lengthAdjust="spacingAndGlyphs" stroke="#131722" stroke-width="0.25">17</text>
<text x="33.55" y="541.3" font-size="11.6" fill="#2A2E39" font-weight="normal" textLength="71.78" lengthAdjust="spacingAndGlyphs" >TradingView</text>
<g clip-path="url(#clip26)"><text x="908.2" y="57.6" font-size="12.4" fill="#131722" font-weight="normal" textLength="49.9" lengthAdjust="spacingAndGlyphs" >26000.00</text><rect x="905" y="50" width="60" height="8" fill="url(#fade26)"/></g>
<path d="M899,328 H962 Q964,328 964,330 V342.6 Q964,344.6 962,344.6 H899 Z" fill="#2962FF"/><text x="908.30" y="341.8" font-size="12.4" fill="#FFFFFF" font-weight="normal" textLength="48.66" lengthAdjust="spacingAndGlyphs" >20136.35</text>
<path d="M899,352.2 H962 Q964,352.2 964,354.2 V366.9 Q964,368.9 962,368.9 H899 Z" fill="#FF6D00"/><text x="909.00" y="365.1" font-size="12.4" fill="#FFFFFF" font-weight="normal" textLength="48.70" lengthAdjust="spacingAndGlyphs" >19440.40</text>
<rect x="899" y="368.9" width="65" height="30.9" fill="#089981"/><text x="909.00" y="381.8" font-size="12.4" fill="#FFFFFF" font-weight="normal" textLength="48.70" lengthAdjust="spacingAndGlyphs" >19291.00</text><text x="908.89" y="395.7" font-size="12.4" fill="#FFFFFF" font-weight="normal" textLength="46.59" lengthAdjust="spacingAndGlyphs" fill-opacity="0.85">15:56:10</text>
<path d="M899,399.8 H962 Q964,399.8 964,401.8 V414.7 Q964,416.7 962,416.7 H899 Z" fill="#2962FF"/><text x="909.00" y="412.6" font-size="12.4" fill="#FFFFFF" font-weight="normal" textLength="48.96" lengthAdjust="spacingAndGlyphs" >18744.45</text>
<path d="M10.1,532.3 H18.5 V541.3 H14.6 V535.9 H10.1 Z" fill="#131722"/>
<circle cx="21.4" cy="534.1" r="1.75" fill="#131722"/>
<path d="M24,532.3 H29.2 L25,541.3 H20.6 Z" fill="#131722"/>
</svg>
</body></html>
